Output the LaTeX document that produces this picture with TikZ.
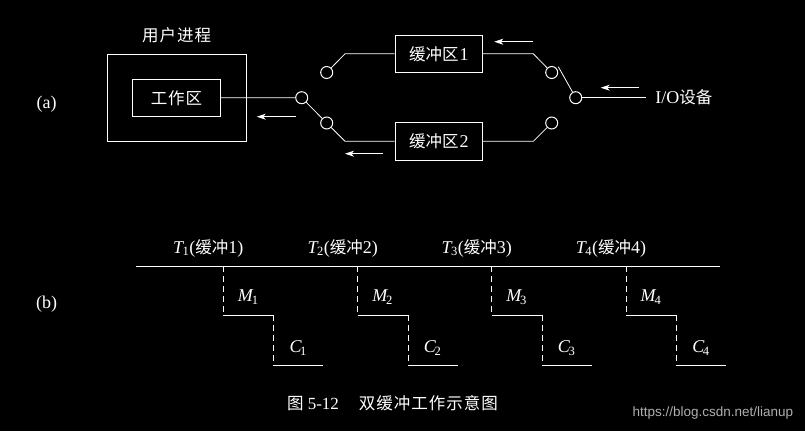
\documentclass[tikz,border=0pt]{standalone}
\usepackage{fontspec}
\setmainfont{Liberation Serif}
\newfontfamily\cjk{Noto Sans CJK SC}
\newfontfamily\wmfont{Liberation Sans}
\usetikzlibrary{arrows.meta}
\newcommand\zh[1]{{\cjk\fontsize{16.5}{18}\selectfont #1}}
\definecolor{wm}{RGB}{175,175,175}
\begin{document}
\begin{tikzpicture}[x=1pt,y=-1pt,line width=0.8pt,
  box/.style={draw=white,line width=0.9pt,minimum width=87.7pt,minimum height=37.7pt,inner sep=0pt,text=white,font=\fontsize{18}{20}\selectfont},
  sw/.style={circle,draw=white,line width=1pt,minimum size=12pt,inner sep=0pt},
  lbl/.style={font=\fontsize{18}{20}\selectfont,text=white,inner sep=0pt},
  flow/.style={draw=white,line width=0.8pt,-{Stealth[length=9pt,width=6pt,inset=2.5pt]}},
  wire/.style={draw=white,line width=0.8pt},
  dashedline/.style={draw=white,line width=0.8pt,dash pattern=on 6pt off 4pt}]
\fill[black] (0,0) rectangle (805,431);
\useasboundingbox (0,0) rectangle (805,431);
% (a) part
\node[box,minimum width=139pt,minimum height=87pt] (proc) at (176.5,97.5) {};
\node[lbl] (proctitle) at (176.7,35) {\zh{用\kern1pt 户\kern1pt 进\kern1pt 程}};
\node[box] (work) at (176.5,97.8) {\zh{工\kern1pt 作\kern1pt 区}};
\node[box] (buf1) at (438.8,53.8) {\zh{缓冲区}\kern1pt 1};
\node[box] (buf2) at (438.8,141.3) {\zh{缓冲区}\kern1pt 2};
\node[sw] (lp) at (301.7,97.7) {};
\node[sw] (lu) at (326.7,72.5) {};
\node[sw] (ll) at (326.7,123) {};
\node[sw] (ru) at (551.7,72.5) {};
\node[sw] (rl) at (551.7,123) {};
\node[sw] (rp) at (575.7,97.7) {};
\coordinate (b1l) at (345,53.8);
\coordinate (b1r) at (533.3,53.8);
\coordinate (b2l) at (345,141.3);
\coordinate (b2r) at (533.3,141.3);
\coordinate (lever) at (558.3,66.7);
\coordinate (ioend) at (645.7,97.7);
\node[lbl,anchor=west] (io) at (655,97.7) {I/O\zh{设备}};
\node[lbl] (la) at (46.7,104) {(a)};
\node[lbl] (lb) at (46.7,304) {(b)};
\draw[wire] (work) -- (lp);
\draw[wire] (lp) -- (ll);
\draw[wire] (lu) -- (b1l) -- (buf1);
\draw[wire] (ll) -- (b2l) -- (buf2);
\draw[wire] (buf1) -- (b1r) -- (ru);
\draw[wire] (buf2) -- (b2r) -- (rl);
\draw[wire] (rp) -- (lever);
\draw[wire] (rp) -- (ioend);
\coordinate (a1s) at (533.3,41.7); \coordinate (a1e) at (494.3,41.7);
\coordinate (a2s) at (382.7,153.7); \coordinate (a2e) at (345,153.7);
\coordinate (a3s) at (295.7,116.7); \coordinate (a3e) at (256.7,116.7);
\coordinate (a4s) at (639,87.7); \coordinate (a4e) at (600.7,87.7);
\draw[flow] (a1s) -- (a1e);
\draw[flow] (a2s) -- (a2e);
\draw[flow] (a3s) -- (a3e);
\draw[flow] (a4s) -- (a4e);
% (b) part
\coordinate (tl) at (136,266);
\coordinate (tr) at (720,266);
\draw[wire] (tl) -- (tr);
\foreach \i/\x in {1/223.3,2/357.7,3/491.7,4/626}{
  \draw[dashedline] (\x,266) -- (\x,315);
  \draw[wire] (\x,315) -- (\x+50.5,315);
  \draw[dashedline] (\x+50.5,315) -- (\x+50.5,365.7);
  \draw[wire] (\x+50.5,365.7) -- (\x+100,365.7);
  \node[lbl] (t\i) at (\x-15,248) {\textit{T}\kern-1.5pt\textsubscript{\i}(\zh{缓冲}\i)};
  \node[lbl] (m\i) at (\x+25,297) {\textit{M}\kern-2pt\textsubscript{\i}};
  \node[lbl] (c\i) at (\x+75,348) {\textit{C}\kern-1.5pt\textsubscript{\i}};
}
\node[lbl,font=\fontsize{17}{18}\selectfont] (cap) at (392.5,403) {\zh{图}~5-12\hspace{20pt}\zh{双\kern1pt 缓\kern1pt 冲\kern1pt 工\kern1pt 作\kern1pt 示\kern1pt 意\kern1pt 图}};
\node[anchor=east,inner sep=0pt,text=wm,font=\wmfont\fontsize{13.5}{15}\selectfont] (wmark) at (793.5,413.3) {https://blog.csdn.net/lianup};
\end{tikzpicture}
\end{document}
